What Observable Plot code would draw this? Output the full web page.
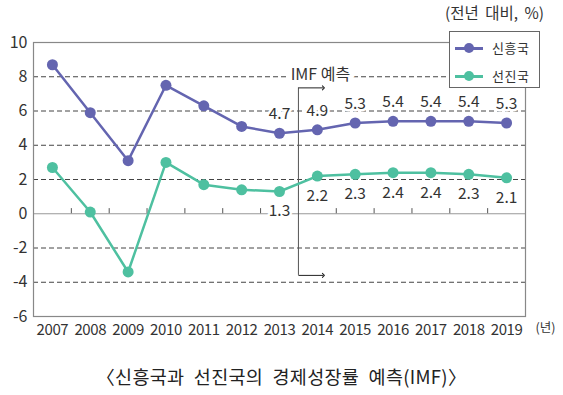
<!DOCTYPE html>
<html>
<head>
<meta charset="utf-8">
<script src="https://cdn.jsdelivr.net/npm/d3@7"></script>
<script src="https://cdn.jsdelivr.net/npm/@observablehq/plot@0.6"></script>
<style>
  html, body { margin: 0; padding: 0; background: #fff; }
  #wrap { position: relative; width: 563px; height: 395px; font-family: "Noto Sans CJK KR", "Noto Sans", sans-serif; color: #333; }
  #unit { position: absolute; top: 1px; left: 445px; font-size: 15.5px; white-space: nowrap; word-spacing: 3px; }
  #legend { position: absolute; left: 449px; top: 31px; width: 91px; height: 57px; border: 1px solid #666; background: #fff; box-sizing: border-box; }
  .lg { position: absolute; left: 0; height: 20px; width: 89px; font-size: 13px; white-space: nowrap; }
  .lg .ln { position: absolute; left: 5px; top: 9px; width: 28px; height: 2.5px; }
  .lg .dot { position: absolute; left: 14px; top: 5px; width: 10px; height: 10px; border-radius: 50%; }
  .lg .tx { position: absolute; left: 42px; top: 0px; line-height: 20px; letter-spacing: 0.5px; }
  #caption { position: absolute; top: 363px; left: 0; width: 563px; text-align: center; font-size: 18.5px; letter-spacing: 0.3px; word-spacing: 5px; color: #222; }
  .num text { letter-spacing: -0.4px; }
</style>
</head>
<body>
<div id="wrap">
  <div id="chart"></div>
  <div id="unit">(전년 대비, %)</div>
  <div id="legend"></div>
  <div id="caption">〈신흥국과 선진국의 경제성장률 예측(IMF)〉</div>
</div>
<script>
const years = [2007, 2008, 2009, 2010, 2011, 2012, 2013, 2014, 2015, 2016, 2017, 2018, 2019];
const emerging = [8.7, 5.9, 3.1, 7.5, 6.3, 5.1, 4.7, 4.9, 5.3, 5.4, 5.4, 5.4, 5.3];
const advanced = [2.7, 0.1, -3.4, 3.0, 1.7, 1.4, 1.3, 2.2, 2.3, 2.4, 2.4, 2.3, 2.1];
const seriesNames = ["신흥국", "선진국"];
const seriesColors = ["#6465b0", "#4ec0a0"];
const yTicks = [-6, -4, -2, 0, 2, 4, 6, 8, 10];
const gridValues = [-4, -2, 2, 4, 6, 8];
const labelFromYear = 2013;
const forecastText = "IMF 예측";
const forecastBoundary = 2013.5;
const yearUnit = "(년)";

const rows = [];
years.forEach((yr, i) => {
  rows.push({year: yr, value: emerging[i], series: seriesNames[0]});
  rows.push({year: yr, value: advanced[i], series: seriesNames[1]});
});
const labeled = rows.filter(d => d.year >= labelFromYear);
const boundaries = years.slice(0, -1).map(y => y + 0.5).filter(b => b !== forecastBoundary);

const plot = Plot.plot({
  width: 563,
  height: 350,
  marginLeft: 33,
  marginRight: 38,
  marginTop: 42,
  marginBottom: 34,
  style: {fontFamily: "'Noto Sans CJK KR', sans-serif", color: "#333", background: "transparent"},
  x: {type: "linear", domain: [2006.5, 2019.5], label: null, axis: null},
  y: {domain: [-6, 10], label: null, axis: null},
  color: {domain: seriesNames, range: seriesColors},
  marks: [
    Plot.axisX(years, {tickSize: 0, tickPadding: 8, tickFormat: d => String(d), fontSize: 15, fill: "#333", label: null, className: "num"}),
    Plot.axisY(yTicks, {tickSize: 0, tickPadding: 6, tickFormat: d => String(d), fontSize: 16, fill: "#333", label: null}),
    Plot.ruleY(gridValues, {stroke: "#444", strokeDasharray: "5,3", strokeWidth: 1}),
    Plot.ruleY([0], {stroke: "#999", strokeWidth: 1}),
    Plot.ruleX(boundaries, {y1: 0, y2: 0.3, stroke: "#555", strokeWidth: 1}),
    Plot.frame({stroke: "#888", strokeWidth: 1.2}),
    // forecast annotation
    Plot.ruleX([forecastBoundary], {y1: -3.6, y2: 7.35, stroke: "#555", strokeWidth: 1}),
    Plot.link([7.35, -3.6], {x1: forecastBoundary, x2: forecastBoundary + 0.66, y1: d => d, y2: d => d, stroke: "#222", strokeWidth: 1, markerEnd: "arrow"}),
    Plot.text([forecastText], {x: forecastBoundary, y: 8.1, dx: 22, fontSize: 16, fill: "#333", stroke: "white", strokeWidth: 10, textAnchor: "middle"}),
    // series
    Plot.line(rows, {x: "year", y: "value", stroke: "series", strokeWidth: 2.5}),
    Plot.dot(rows, {x: "year", y: "value", fill: "series", r: 5.5}),
    // data labels
    Plot.text(labeled.filter(d => d.series === seriesNames[0]), {x: "year", y: "value", text: d => d.value.toFixed(1), dy: -19, fontSize: 15.5, fill: "#333", stroke: "white", strokeWidth: 5}),
    Plot.text(labeled.filter(d => d.series === seriesNames[1]), {x: "year", y: "value", text: d => d.value.toFixed(1), dy: 20, fontSize: 15.5, fill: "#333", stroke: "white", strokeWidth: 5}),
    Plot.text([yearUnit], {frameAnchor: "bottom-right", dx: 20, dy: 15, fontSize: 12.5, fill: "#333", textAnchor: "middle"})
  ]
});
document.getElementById("chart").appendChild(plot);

const legend = document.getElementById("legend");
seriesNames.forEach((name, i) => {
  const row = document.createElement("div");
  row.className = "lg";
  row.style.top = (6 + i * 28) + "px";
  row.innerHTML = `<div class="ln" style="background:${seriesColors[i]}"></div><div class="dot" style="background:${seriesColors[i]}"></div><div class="tx">${name}</div>`;
  legend.appendChild(row);
});
</script>
</body>
</html>
